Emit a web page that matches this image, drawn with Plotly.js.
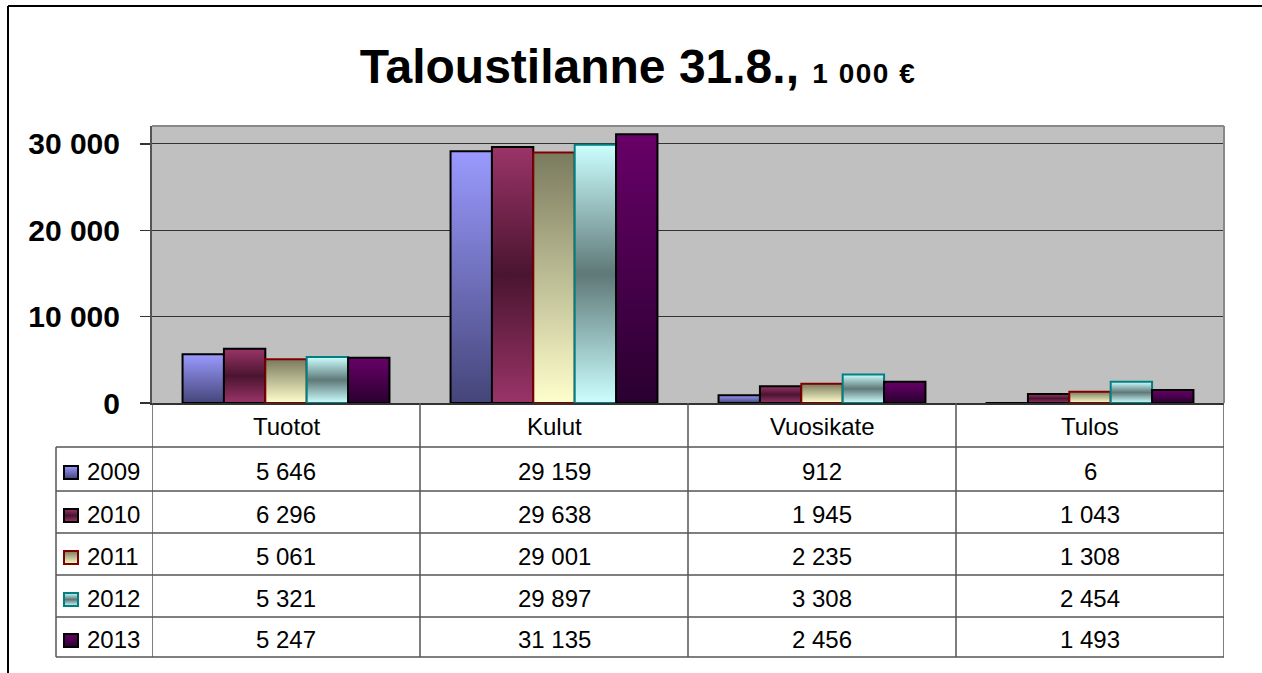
<!DOCTYPE html>
<html>
<head>
<meta charset="utf-8">
<script src="https://cdn.plot.ly/plotly-3.0.1.min.js"></script>
<style>
  html, body { margin: 0; padding: 0; background: #fff; }
  #chart { width: 1262px; height: 673px; }
</style>
</head>
<body>
<div id="chart"></div>
<script>
// ---- data ----
const categories = ['Tuotot', 'Kulut', 'Vuosikate', 'Tulos'];
const years = ['2009', '2010', '2011', '2012', '2013'];
const values2009 = [5646, 29159, 912, 6];
const values2010 = [6296, 29638, 1945, 1043];
const values2011 = [5061, 29001, 2235, 1308];
const values2012 = [5321, 29897, 3308, 2454];
const values2013 = [5247, 31135, 2456, 1493];
const seriesValues = [values2009, values2010, values2011, values2012, values2013];
const yTickVals = [0, 10000, 20000, 30000];

// ---- styles ----
const borderColors = ['#000000', '#000000', '#800000', '#008080', '#000000'];
const solidColors = ['#7777C0', '#702048', '#CCCC99', '#99CCCC', '#4A004A'];
const gradientStops = [
  [[0, '#9A9AFF'], [1, '#45457A']],
  [[0, '#9A3468'], [0.5, '#4A1530'], [1, '#9A3468']],
  [[0, '#7A7A5E'], [1, '#FFFFCC']],
  [[0, '#CCFFFF'], [0.5, '#5F7878'], [1, '#CCFFFF']],
  [[0, '#680068'], [1, '#2A0030']]
];

// ---- layout geometry (pixels) ----
const W = 1262, H = 673;
const mL = 152, mR = 38, mT = 126, mB = 270;
const plotW = W - mL - mR, plotH = H - mT - mB;
const axisY = mT + plotH; // 403
const px2x = px => (px - mL) / plotW;
const py2y = py => (axisY - py) / plotH;
const rowLines = [447, 491, 533, 575, 617, 657];
const tableLeft = 56;
const FONT = 'Liberation Sans, Arial, sans-serif';

const fmt = n => String(n).replace(/\B(?=(\d{3})+(?!\d))/g, ' ');

const traces = years.map((yr, j) => ({
  type: 'bar',
  name: yr,
  x: categories,
  y: seriesValues[j],
  marker: { color: solidColors[j], line: { color: borderColors[j], width: 2 } },
  hoverinfo: 'x+y+name'
}));

const shapes = [];
const annotations = [];
const lineStyle = { color: '#555555', width: 1.5 };

// outer frame (top and left)
shapes.push({ type: 'line', xref: 'paper', yref: 'paper', x0: px2x(8), x1: px2x(1262), y0: py2y(6), y1: py2y(6), line: { color: '#000', width: 2 } });
shapes.push({ type: 'line', xref: 'paper', yref: 'paper', x0: px2x(8), x1: px2x(8), y0: py2y(6), y1: py2y(673), line: { color: '#000', width: 2 } });
// plot area frame (top and right)
shapes.push({ type: 'line', xref: 'paper', yref: 'paper', x0: 0, x1: 1, y0: 1, y1: 1, line: { color: '#888888', width: 2 } });
shapes.push({ type: 'line', xref: 'paper', yref: 'paper', x0: 1, x1: 1, y0: 0, y1: 1, line: { color: '#888888', width: 2 } });

// table vertical lines at category boundaries
for (let i = 0; i <= categories.length; i++) {
  shapes.push({ type: 'line', xref: 'x', yref: 'paper', x0: i - 0.5, x1: i - 0.5, y0: 0, y1: py2y(rowLines[rowLines.length - 1]), line: lineStyle });
}
// legend column left line
shapes.push({ type: 'line', xref: 'paper', yref: 'paper', x0: px2x(tableLeft), x1: px2x(tableLeft), y0: py2y(rowLines[0]), y1: py2y(rowLines[rowLines.length - 1]), line: lineStyle });
// horizontal lines
rowLines.forEach(py => {
  shapes.push({ type: 'line', xref: 'paper', yref: 'paper', x0: px2x(tableLeft), x1: 1, y0: py2y(py), y1: py2y(py), line: lineStyle });
});

// header labels
categories.forEach((c, i) => {
  annotations.push({ xref: 'x', yref: 'paper', x: i, y: py2y((axisY + rowLines[0]) / 2 + 1), text: c, showarrow: false, xanchor: 'center', yanchor: 'middle', font: { family: FONT, size: 24, color: '#000' } });
});

// rows
const keyShapeIdx = [];
years.forEach((yr, j) => {
  const top = rowLines[j], bot = rowLines[j + 1];
  const cy = (top + bot) / 2 + 2;
  keyShapeIdx.push(shapes.length);
  shapes.push({ type: 'rect', xref: 'paper', yref: 'paper', x0: px2x(64), x1: px2x(78), y0: py2y(cy - 5), y1: py2y(cy + 8), fillcolor: solidColors[j], line: { color: borderColors[j], width: 2 } });
  annotations.push({ xref: 'paper', yref: 'paper', x: px2x(85), y: py2y(cy), text: yr, showarrow: false, xanchor: 'left', yanchor: 'middle', font: { family: FONT, size: 24, color: '#000' } });
  seriesValues[j].forEach((v, i) => {
    annotations.push({ xref: 'x', yref: 'paper', x: i, y: py2y(cy), text: fmt(v), showarrow: false, xanchor: 'center', yanchor: 'middle', font: { family: FONT, size: 24, color: '#000' } });
  });
});

const layout = {
  width: W, height: H,
  margin: { l: mL, r: mR, t: mT, b: mB, pad: 0 },
  paper_bgcolor: '#ffffff',
  plot_bgcolor: '#C0C0C0',
  separators: ', ',
  showlegend: false,
  barmode: 'group',
  bargap: 0.228,
  bargroupgap: 0,
  title: {
    text: '<b>Taloustilanne 31.8.,</b> <b><span style="font-size:28px;letter-spacing:1.5px">1 000 €</span></b>',
    font: { family: FONT, size: 48, color: '#000' },
    x: 638 / W, xanchor: 'center', xref: 'container',
    y: 1 - 66 / H, yanchor: 'middle', yref: 'container'
  },
  xaxis: {
    type: 'category',
    range: [-0.5, categories.length - 0.5],
    showticklabels: false,
    showgrid: false,
    zeroline: false,
    showline: true, linecolor: '#333333', linewidth: 1.5,
    ticks: '',
    fixedrange: true
  },
  yaxis: {
    range: [0, 32083],
    tickvals: yTickVals,
    tickformat: ',d',
    tickfont: { family: FONT, size: 30, color: '#000', weight: 'bold' },
    ticks: 'outside', ticklen: 10, tickcolor: '#333333', tickwidth: 1.5,
    ticklabelstandoff: 14,
    showgrid: true, gridcolor: '#333333', gridwidth: 1,
    zeroline: false,
    showline: true, linecolor: '#555555', linewidth: 2,
    fixedrange: true
  },
  shapes: shapes,
  annotations: annotations
};

Plotly.newPlot('chart', traces, layout, { displayModeBar: false, staticPlot: true }).then(gd => {
  const NS = 'http://www.w3.org/2000/svg';
  const svg = gd.querySelector('.main-svg');
  let defs = svg.querySelector('defs');
  if (!defs) { defs = document.createElementNS(NS, 'defs'); svg.insertBefore(defs, svg.firstChild); }
  gradientStops.forEach((stops, j) => {
    const g = document.createElementNS(NS, 'linearGradient');
    g.setAttribute('id', 'barGrad' + j);
    g.setAttribute('x1', '0'); g.setAttribute('y1', '0');
    g.setAttribute('x2', '0'); g.setAttribute('y2', '1');
    stops.forEach(([o, c]) => {
      const s = document.createElementNS(NS, 'stop');
      s.setAttribute('offset', String(o));
      s.setAttribute('stop-color', c);
      g.appendChild(s);
    });
    defs.appendChild(g);
  });
  const traceGroups = gd.querySelectorAll('.barlayer .trace');
  traceGroups.forEach((tg, j) => {
    tg.querySelectorAll('.point path').forEach(p => { p.style.fill = 'url(#barGrad' + j + ')'; });
  });
  keyShapeIdx.forEach((idx, j) => {
    gd.querySelectorAll('.shapelayer path[data-index="' + idx + '"]').forEach(p => { p.style.fill = 'url(#barGrad' + j + ')'; p.style.fillOpacity = 1; });
  });
});
</script>
</body>
</html>
